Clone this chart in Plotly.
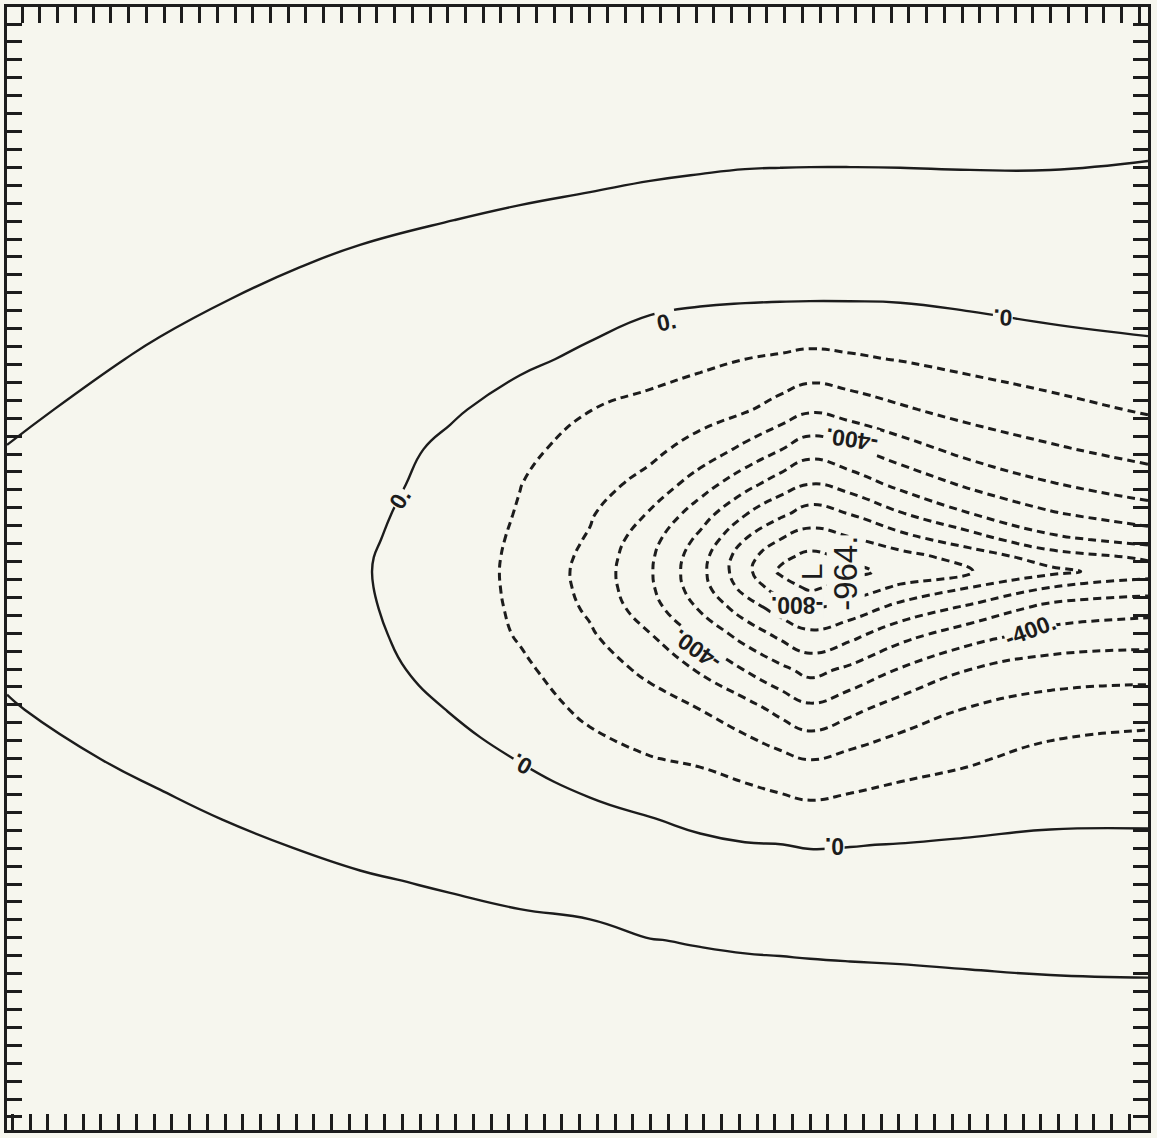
import plotly.graph_objects as go

# Model grid (grid-point units): column and row positions of the sampled field
grid_x = [0.0, 8.63, 16.53, 19.91, 24.99, 28.93, 32.88, 36.27, 39.09,
          41.62, 43.6, 45.29, 47.55, 50.37, 54.31, 58.83, 64.35]
# rows listed from the top edge down
grid_y_top_down = [62.68, 56.42, 50.84, 46.37, 43.02, 40.22, 37.99, 36.03,
                   34.36, 32.96, 31.96, 31.17, 30.28, 29.16, 27.65, 25.7,
                   23.46, 20.67, 17.32, 15.92, 13.97, 10.61, 6.7, 0.0]

# Field values, one list per row (top row first), one value per column
field_rows = [
    [150, 160, 165, 168, 170, 175, 175, 175, 175, 175, 175, 175, 175, 175, 175, 175, 175],
    [146, 150, 145, 141, 135, 149, 146, 142, 139, 136, 135, 135, 135, 135, 133, 129, 118],
    [138, 135, 115, 109, 101, 92, 83, 74, 68, 64, 63, 62, 62, 63, 68, 72, 75],
    [128, 110, 90, 81, 63, 47, 33, 20, 11, 7, 5, 4, 4, 6, 18, 32, 40],
    [120, 94, 70, 63, 34, 14, -14, -55, -79, -100, -111, -122, -112, -96, -71, -46, -25],
    [108, 82, 55, 48, 10, -30, -98, -130, -158, -189, -237, -285, -254, -212, -164, -129, -90],
    [99, 72, 44, 38, -16, -70, -150, -177, -238, -324, -396, -458, -412, -344, -265, -213, -164],
    [91, 64, 35, 28, -27, -98, -165, -230, -354, -467, -550, -609, -559, -474, -382, -307, -249],
    [85, 58, 28, 20, -38, -107, -190, -311, -455, -596, -683, -743, -700, -611, -505, -413, -344],
    [81, 54, 24, 14, -46, -115, -210, -365, -525, -700, -800, -848, -812, -740, -647, -525, -462],
    [79, 51, 21, 9, -50, -119, -225, -385, -561, -761, -878, -929, -884, -841, -760, -655, -586],
    [78, 50, 20, 8, -52, -120, -232, -390, -570, -769, -915, -964, -925, -868, -803, -725, -645],
    [79, 51, 21, 9, -51, -119, -228, -384, -559, -734, -847, -919, -860, -782, -700, -600, -547],
    [82, 54, 24, 12, -47, -116, -215, -359, -513, -650, -743, -800, -760, -668, -582, -469, -435],
    [87, 59, 30, 17, -38, -108, -188, -296, -421, -540, -622, -678, -629, -536, -443, -367, -343],
    [95, 67, 38, 25, -24, -83, -155, -220, -312, -404, -476, -532, -480, -393, -300, -251, -243],
    [103, 77, 49, 34, -2, -52, -120, -160, -200, -258, -325, -374, -323, -253, -192, -153, -129],
    [113, 92, 65, 48, 26, -2, -62, -95, -112, -140, -171, -200, -169, -138, -110, -68, -58],
    [124, 108, 90, 75, 59, 39, 36, 4, -16, -36, -44, -52, -46, -35, -19, -7, -6],
    [127, 116, 98, 86, 73, 56, 52, 25, 13, 4, 1, -4, -2, 2, 8, 11, 11],
    [131, 122, 110, 105, 93, 80, 75, 54, 43, 36, 32, 29, 29, 30, 34, 35, 35],
    [137, 131, 122, 119, 125, 121, 113, 101, 97, 95, 94, 93, 92, 91, 89, 87, 86],
    [142, 139, 133, 130, 135, 130, 126, 124, 127, 121, 120, 119, 118, 117, 115, 113, 112],
    [150, 150, 150, 150, 150, 150, 150, 148, 148, 147, 147, 147, 147, 147, 147, 146, 146],
]

# Contour levels: negative ones dashed, zero and above solid
neg_levels = dict(start=-900, end=-100, size=100)
pos_levels = dict(start=0, end=100, size=100)

# Central low
low_value = -964
low_x, low_y = 45.29, 31.17

# Line labels: text, x, y, angle
line_labels = [
    ("0.", 37.17, 45.08, -12),
    ("0.", 56.18, 45.36, 183),
    ("0.", 22.17, 35.2, -58),
    ("0.", 29.05, 20.39, 209),
    ("0.", 46.7, 15.81, 180),
    ("-400.", 47.66, 38.55, 188),
    ("-400.", 38.92, 26.82, 215),
    ("-800.", 44.56, 29.27, 180),
    ("-400.", 57.7, 27.93, -20),
]

ink = "#1c1c1c"
paper = "#f6f6ee"
font_family = "Liberation Sans, Arial, sans-serif"

grid_y = grid_y_top_down[::-1]
z = field_rows[::-1]

fig = go.Figure()
fig.add_trace(go.Contour(
    x=grid_x, y=grid_y, z=z, autocontour=False,
    contours=dict(coloring="none", showlabels=False, **neg_levels),
    line=dict(color=ink, width=3, dash="8px,5px", smoothing=1.3),
    showscale=False, hoverinfo="skip",
))
fig.add_trace(go.Contour(
    x=grid_x, y=grid_y, z=z, autocontour=False,
    contours=dict(coloring="none", showlabels=False, **pos_levels),
    line=dict(color=ink, width=2.4, smoothing=1.3),
    showscale=False, hoverinfo="skip", xaxis="x2",
))

label_font = dict(family=font_family, size=23, color=ink, weight="bold")
for text, lx, ly, ang in line_labels:
    fig.add_annotation(x=lx, y=ly, text=text, textangle=ang, showarrow=False,
                       font=label_font, bgcolor=paper, borderpad=0)

fig.add_annotation(x=low_x + 0.1, y=low_y, text="L", textangle=-90, showarrow=False,
                   font=dict(family=font_family, size=30, color=ink),
                   bgcolor=paper, borderpad=0)
fig.add_annotation(x=low_x + 2.0, y=low_y - 0.1, text=f"{low_value}.", textangle=-90,
                   showarrow=False,
                   font=dict(family=font_family, size=33, color=ink),
                   bgcolor=paper, borderpad=0)

x_range = [0, 64.35]
y_range = [0, 62.68]
axis_common = dict(showline=True, linewidth=3, linecolor=ink, ticks="inside",
                   tickwidth=2.5, tickcolor=ink, dtick=1, showticklabels=False,
                   showgrid=False, zeroline=False, fixedrange=True)

fig.update_layout(
    width=1157, height=1138, autosize=False,
    margin=dict(l=7, r=9, t=7, b=8),
    paper_bgcolor=paper, plot_bgcolor=paper,
    showlegend=False, hovermode=False,
    xaxis=dict(range=x_range, tick0=1.3, ticklen=16, mirror=False, **axis_common),
    xaxis2=dict(range=x_range, tick0=1.86, ticklen=16, overlaying="x", side="top",
                **axis_common),
    yaxis=dict(range=y_range, tick0=0.73, ticklen=15, mirror="ticks", **axis_common),
)

fig.write_html("out.html")
